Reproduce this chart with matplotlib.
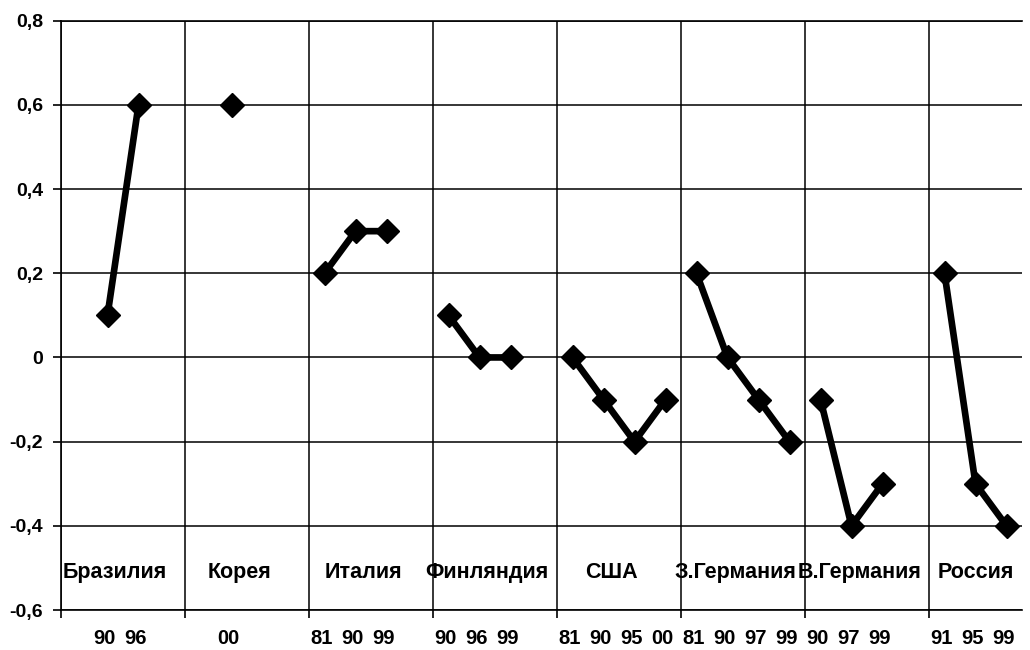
import numpy as np
import matplotlib.pyplot as plt

plt.rcParams['font.family'] = ['Liberation Sans', 'DejaVu Sans']
plt.rcParams['font.weight'] = 'bold'

# ---- Data ----
countries = ["Бразилия", "Корея", "Италия", "Финляндия",
             "США", "З.Германия", "В.Германия", "Россия"]
years = [["90", "96"], ["00"], ["81", "90", "99"], ["90", "96", "99"],
         ["81", "90", "95", "00"], ["81", "90", "97", "99"],
         ["90", "97", "99"], ["91", "95", "99"]]
values = [[0.1, 0.6], [0.6], [0.2, 0.3, 0.3], [0.1, 0.0, 0.0],
          [0.0, -0.1, -0.2, -0.1], [0.2, 0.0, -0.1, -0.2],
          [-0.1, -0.4, -0.3], [0.2, -0.3, -0.4]]
first_slot = [1, 5, 8, 12, 16, 20, 24, 28]   # category index of first year
n_slots = 31
panel = 4                                    # categories per panel

fig = plt.figure(figsize=(10.3, 6.5), dpi=100)
ax = fig.add_axes([61 / 1030, 1 - 610 / 650, (1022 - 61) / 1030, (610 - 20.7) / 650])

for start, vals in zip(first_slot, values):
    x = start + 0.5 + np.arange(len(vals))
    ax.plot(x, vals, "-", color="black", lw=4.8, zorder=3,
            marker="D", ms=12.5, mfc="black", mec="black", mew=1)

ax.set_xlim(0, n_slots)
ax.set_ylim(-0.6, 0.8)

yt = np.round(np.arange(-0.6, 0.81, 0.2), 1)
ax.set_yticks(yt)
ax.set_yticklabels([("%g" % v).replace(".", ",") if v != 0 else "0" for v in yt])
ax.set_xticks(np.arange(0, n_slots, panel))
ax.set_xticklabels([])
ax.tick_params(axis="both", direction="out", length=5.5, width=1.2, color="black",
               labelsize=14, pad=7.5)
ax.grid(True, color="black", lw=1.1, zorder=1)
ax.spines["right"].set_visible(False)
for s in ("left", "bottom", "top"):
    ax.spines[s].set_linewidth(1.2)

# country names inside the panels
for name, start in zip(countries, first_slot):
    p0 = (start // panel) * panel
    if p0 + panel <= n_slots:
        cx = p0 + panel / 2 - 0.25
    else:
        cx = (p0 + n_slots) / 2
    ax.text(cx, -0.51, name, ha="center", va="center", fontsize=15.5,
            fontweight="bold", zorder=4)

# year labels below the axis
trans = ax.get_xaxis_transform()
for start, yrs in zip(first_slot, years):
    for j, yr in enumerate(yrs):
        ax.text(start + 0.4 + j, -0.048, yr, transform=trans, ha="center",
                va="center", fontsize=14.5, fontweight="bold")

plt.savefig("out.png", dpi=100)
